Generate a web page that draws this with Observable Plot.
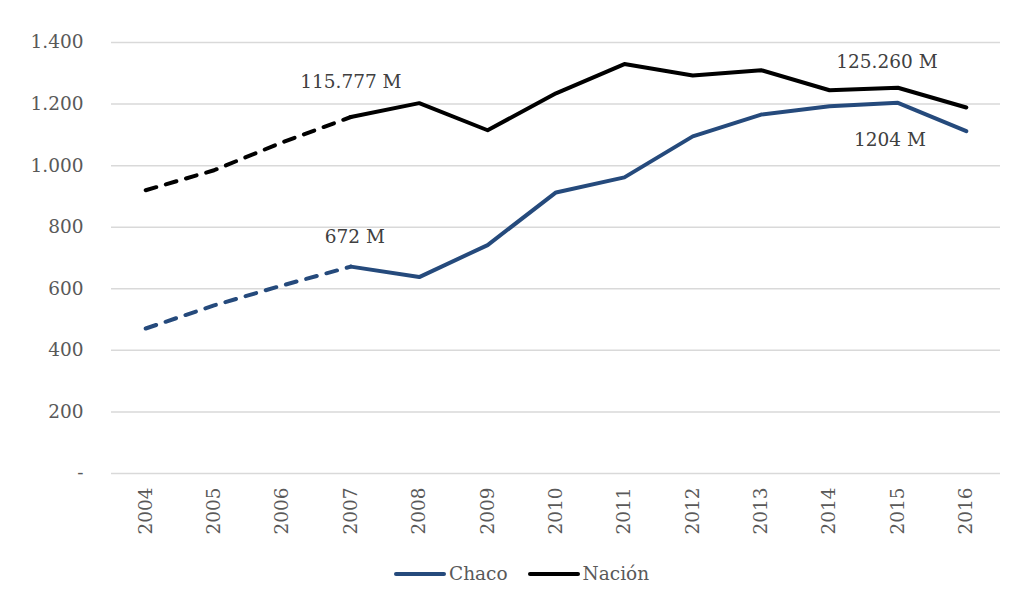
<!DOCTYPE html>
<html>
<head>
<meta charset="utf-8">
<script src="https://cdn.jsdelivr.net/npm/d3@7"></script>
<script src="https://cdn.jsdelivr.net/npm/@observablehq/plot@0.6"></script>
<style>
  html, body { margin: 0; padding: 0; background: #ffffff; }
  #wrap { position: relative; width: 1015px; height: 607px; font-family: "DejaVu Serif", serif; color: #595959; }
  #legend { position: absolute; top: 563px; left: 394px; display: flex; align-items: center; font-size: 18.5px; color: #595959; }
  .item { display: flex; align-items: center; margin-right: 20px; }
  .swatch { width: 52px; height: 4px; border-radius: 2px; margin-right: 3px; }
</style>
</head>
<body>
<div id="wrap">
  <div id="chart"></div>
  <div id="legend"></div>
</div>
<script>
const years = [2004, 2005, 2006, 2007, 2008, 2009, 2010, 2011, 2012, 2013, 2014, 2015, 2016];
const chaco = [471, 546, 611, 672, 638, 742, 913, 962, 1095, 1166, 1193, 1204, 1112];
const nacion = [920, 985, 1076, 1158, 1203, 1115, 1235, 1330, 1293, 1310, 1245, 1253, 1189];
const seriesNames = ["Chaco", "Nación"];
const seriesColors = ["#254a7c", "#000000"];
const dashedUntil = 2007;
const yTicks = [0, 200, 400, 600, 800, 1000, 1200, 1400];

const annLabels = ["115.777 M", "672 M", "125.260 M", "1204 M"];
const annSeries = ["Nación", "Chaco", "Nación", "Chaco"];
const annYears = [2007, 2007, 2015, 2015];

const rows = [];
years.forEach((yr, i) => {
  rows.push({year: yr, value: chaco[i], series: "Chaco"});
  rows.push({year: yr, value: nacion[i], series: "Nación"});
});
const dashedRows = rows.filter(d => d.year <= dashedUntil);
const solidRows = rows.filter(d => d.year >= dashedUntil);
const lookup = (s, yr) => rows.find(d => d.series === s && d.year === yr).value;
const ann = annLabels.map((t, i) => ({label: t, year: annYears[i], value: lookup(annSeries[i], annYears[i]), idx: i}));
const annDx = [0, 4, -11, -8];
const annDy = [-35, -30, -26, 37];

const fmt = d => d === 0 ? "-" : d3.format(",")(d).replace(/,/g, ".");
const FS = 18.5;

const plot = Plot.plot({
  width: 1015,
  height: 550,
  marginTop: 42,
  marginBottom: 77,
  marginLeft: 111,
  marginRight: 15,
  style: {fontFamily: "DejaVu Serif, serif", fontSize: FS + "px", color: "#595959", background: "transparent"},
  x: {domain: [years[0] - 0.5, years[years.length - 1] + 0.5], label: null},
  y: {domain: [0, 1400], label: null},
  color: {domain: seriesNames, range: seriesColors},
  marks: [
    Plot.gridY(yTicks, {stroke: "#d9d9d9", strokeOpacity: 1, strokeWidth: 1.5}),
    Plot.axisY({ticks: yTicks, tickFormat: fmt, tickSize: 0, tickPadding: 28, fill: "#595959", fontSize: FS, label: null}),
    Plot.axisX({ticks: years, tickFormat: d => String(d), tickSize: 0, tickPadding: 14, tickRotate: -90, fill: "#595959", fontSize: FS, label: null}),
    Plot.line(dashedRows, {x: "year", y: "value", z: "series", stroke: "series", strokeWidth: 4, strokeDasharray: "11,10", strokeLinecap: "round"}),
    Plot.line(solidRows, {x: "year", y: "value", z: "series", stroke: "series", strokeWidth: 4, strokeLinejoin: "round", strokeLinecap: "round"}),
    ...ann.map((a, i) => Plot.text([a], {x: "year", y: "value", text: "label", dx: annDx[i], dy: annDy[i], fill: "#404040", fontSize: FS}))
  ]
});
document.getElementById("chart").appendChild(plot);

const legend = document.getElementById("legend");
seriesNames.forEach((n, i) => {
  const it = document.createElement("div");
  it.className = "item";
  const sw = document.createElement("div");
  sw.className = "swatch";
  sw.style.background = seriesColors[i];
  const tx = document.createElement("span");
  tx.textContent = n;
  it.appendChild(sw);
  it.appendChild(tx);
  legend.appendChild(it);
});
</script>
</body>
</html>
